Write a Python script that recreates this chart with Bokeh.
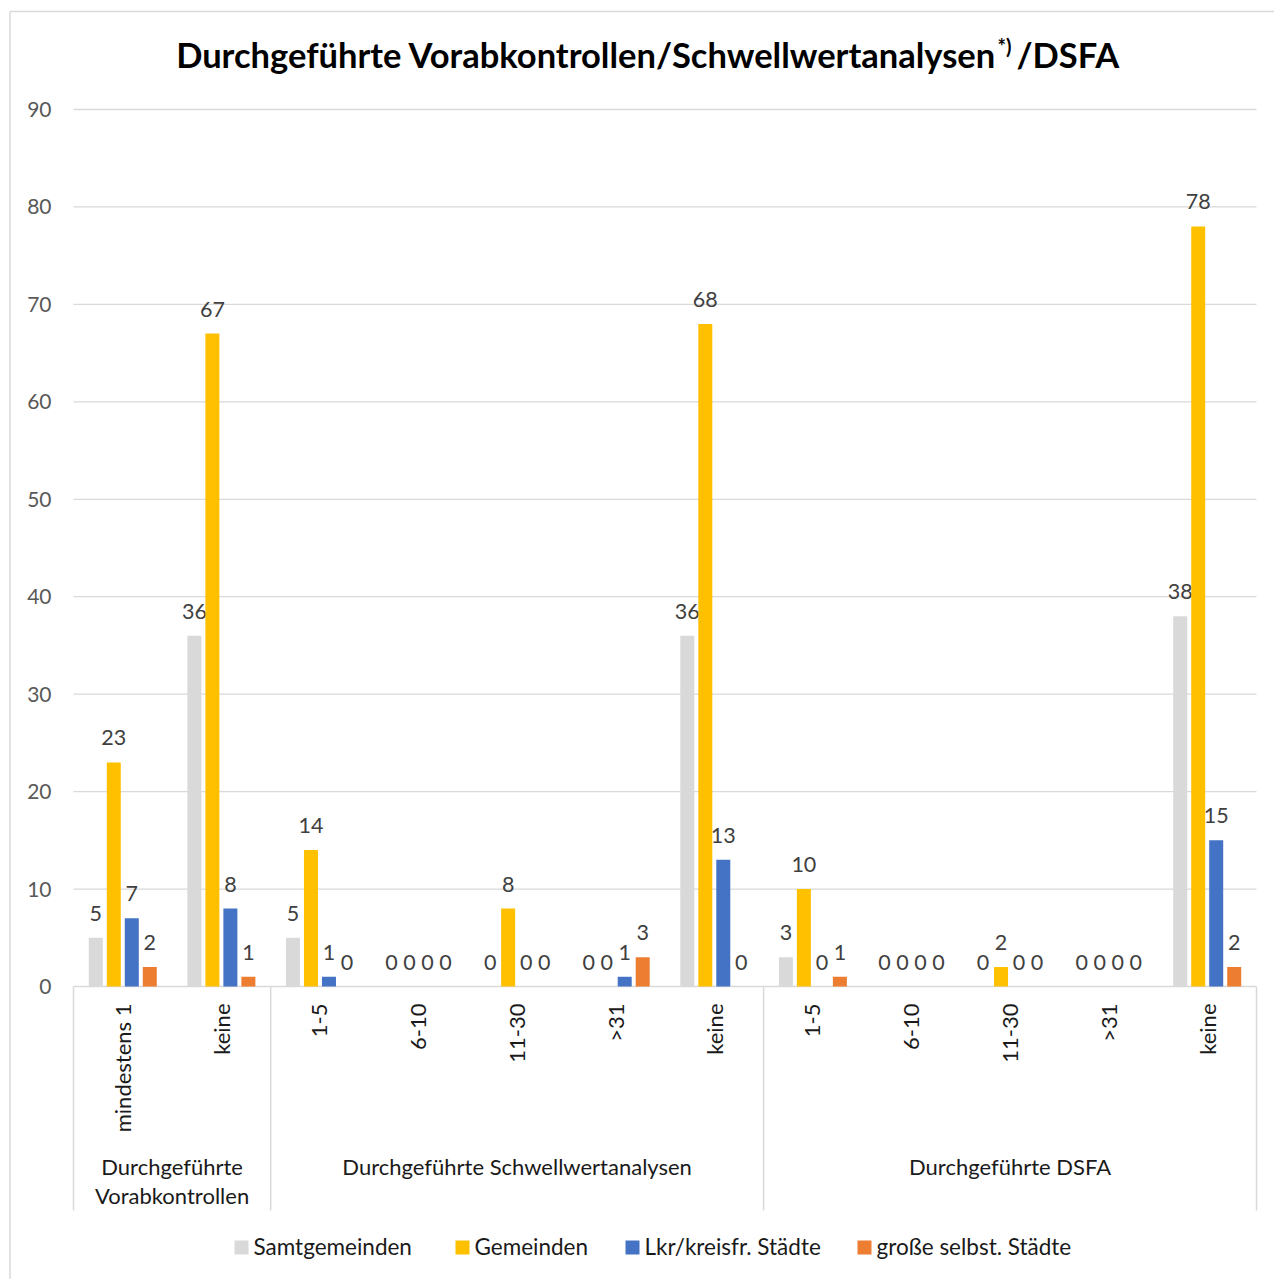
import math
from bokeh.plotting import figure
from bokeh.models import Range1d, ColumnDataSource
from bokeh.core.properties import value
from bokeh.embed import file_html
from bokeh.resources import INLINE

# ---------------- data ----------------
title_main = "Durchgeführte Vorabkontrollen/Schwellwertanalysen"
title_sup = "*)"
title_tail = "/DSFA"

groups = ["Durchgeführte\nVorabkontrollen", "Durchgeführte Schwellwertanalysen", "Durchgeführte DSFA"]
group_sizes = [2, 5, 5]
categories = ["mindestens 1", "keine", "1-5", "6-10", "11-30", ">31", "keine",
              "1-5", "6-10", "11-30", ">31", "keine"]

series_names = ["Samtgemeinden", "Gemeinden", "Lkr/kreisfr. Städte", "große selbst. Städte"]
samtgemeinden = [5, 36, 5, 0, 0, 0, 36, 3, 0, 0, 0, 38]
gemeinden = [23, 67, 14, 0, 8, 0, 68, 10, 0, 2, 0, 78]
lkr_staedte = [7, 8, 1, 0, 0, 1, 13, 0, 0, 0, 0, 15]
grosse_staedte = [2, 1, 0, 0, 0, 3, 0, 1, 0, 0, 0, 2]
series_values = [samtgemeinden, gemeinden, lkr_staedte, grosse_staedte]
y_ticks = [0, 10, 20, 30, 40, 50, 60, 70, 80, 90]

# ---------------- styles / layout ----------------
colors = ["#d9d9d9", "#ffc000", "#4472c4", "#ed7d31"]
FONT = value("Lato")
W, H = 1274, 1279
PX_LEFT, PX_RIGHT = 73, 1256
PX_ZERO, PX_TOP = 986, 109
ux = (PX_RIGHT - PX_LEFT) / len(categories)
uy = (PX_ZERO - PX_TOP) / (y_ticks[-1] - y_ticks[0])


def X(px):
    return (px - PX_LEFT) / ux


def Y(py):
    return (PX_ZERO - py) / uy


p = figure(width=W, height=H, x_range=Range1d(X(0), X(W)), y_range=Range1d(Y(H), Y(0)),
           x_axis_location=None, y_axis_location=None, toolbar_location=None,
           output_backend="svg", min_border=0)
p.grid.visible = False
p.outline_line_color = None
p.background_fill_color = "white"
p.border_fill_color = "white"

GRID = "#d9d9d9"
TXT = "#1a1a1a"

# outer chart border (left & top visible)
p.segment(x0=[X(9.5), X(9.5)], y0=[Y(11), Y(11)], x1=[X(W), X(9.5)], y1=[Y(11), Y(H)],
          line_color=GRID, line_width=1.5)

# gridlines
n = len(categories)
p.segment(x0=[0] * len(y_ticks), y0=y_ticks, x1=[n] * len(y_ticks), y1=y_ticks,
          line_color=GRID, line_width=1.3)

# y tick labels
p.text(x=[X(51)] * len(y_ticks), y=y_ticks, text=[str(t) for t in y_ticks],
       text_align="right", text_baseline="middle", text_font=FONT,
       text_font_size=value("21px"), text_color="#595959")

# group separators
bounds = [0]
for s in group_sizes:
    bounds.append(bounds[-1] + s)
p.segment(x0=bounds, y0=[0] * len(bounds), x1=bounds, y1=[Y(1210)] * len(bounds),
          line_color=GRID, line_width=1.5)

# bars + data labels
pitch = 18 / ux
bw = 14 / ux
for k, (name, vals, col) in enumerate(zip(series_names, series_values, colors)):
    xs = [i + 0.5 + (k - 1.5) * pitch for i in range(n)]
    src = ColumnDataSource(dict(x=xs, top=vals,
                                ly=[v + 24.5 / uy for v in vals],
                                lab=[str(v) for v in vals]))
    p.vbar(x="x", top="top", bottom=0, width=bw, source=src, fill_color=col, line_color=None)
    p.text(x="x", y="ly", text="lab", source=src, text_align="center",
           text_baseline="middle", text_font=FONT, text_font_size=value("21.5px"),
           text_color="#404040")

# category labels (rotated)
p.text(x=[i + 0.5 for i in range(n)], y=[Y(1003)] * n, text=categories, angle=math.pi / 2,
       text_align="right", text_baseline="middle", text_font=FONT,
       text_font_size=value("22px"), text_color=TXT)

# group labels
gx, gy, gt = [], [], []
for g, s, b in zip(groups, group_sizes, bounds):
    for j, line in enumerate(g.split("\n")):
        gx.append(b + s / 2)
        gy.append(Y(1166 + 29 * j))
        gt.append(line)
p.text(x=gx, y=gy, text=gt, text_align="center", text_baseline="middle",
       text_font=FONT, text_font_size=value("22px"), text_color=TXT)

# legend
leg_px = [241, 462, 632, 864]
p.rect(x=[X(v) for v in leg_px], y=[Y(1247)] * 4, width=14 / ux, height=14 / uy,
       fill_color=colors, line_color=None)
p.text(x=[X(v + 12) for v in leg_px], y=[Y(1246)] * 4, text=series_names,
       text_align="left", text_baseline="middle", text_font=FONT,
       text_font_size=value("22.5px"), text_color=TXT)

# title
p.text(x=[X(996)], y=[Y(54)], text=[title_main], text_align="right",
       text_baseline="middle", text_font=FONT, text_font_style="bold",
       text_font_size=value("34.5px"), text_color="#000000")
p.text(x=[X(997)], y=[Y(45)], text=[title_sup], text_align="left",
       text_baseline="middle", text_font=FONT, text_font_style="bold",
       text_font_size=value("20px"), text_color="#000000")
p.text(x=[X(1016)], y=[Y(54)], text=[title_tail], text_align="left",
       text_baseline="middle", text_font=FONT, text_font_style="bold",
       text_font_size=value("34.5px"), text_color="#000000")

open("out.html", "w").write(file_html(p, INLINE))
